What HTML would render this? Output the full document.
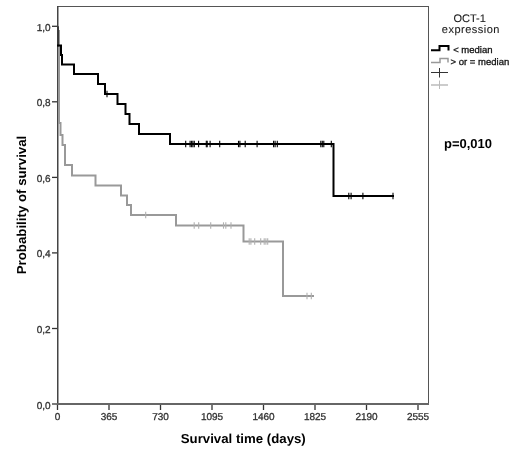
<!DOCTYPE html>
<html><head><meta charset="utf-8"><style>
html,body{margin:0;padding:0;background:#fff;}
svg{display:block;will-change:transform;}
text{text-rendering:geometricPrecision;}
text{font-family:"Liberation Sans",sans-serif;}
</style></head><body>
<svg width="520" height="463" viewBox="0 0 520 463">
<rect width="520" height="463" fill="#fff"/>
<!-- box -->
<g fill="none" stroke="#555" stroke-width="1">
<line x1="57.5" y1="6.5" x2="428.5" y2="6.5"/>
<line x1="428.5" y1="6" x2="428.5" y2="404"/>
</g>
<g fill="none" stroke="#333" stroke-width="1.3"><line x1="52" y1="26.3" x2="57.5" y2="26.3"/><line x1="52" y1="101.8" x2="57.5" y2="101.8"/><line x1="52" y1="177.4" x2="57.5" y2="177.4"/><line x1="52" y1="252.9" x2="57.5" y2="252.9"/><line x1="52" y1="328.5" x2="57.5" y2="328.5"/><line x1="52" y1="404.0" x2="57.5" y2="404.0"/><line x1="57.5" y1="404" x2="57.5" y2="410"/><line x1="109.0" y1="404" x2="109.0" y2="410"/><line x1="160.5" y1="404" x2="160.5" y2="410"/><line x1="212.0" y1="404" x2="212.0" y2="410"/><line x1="263.5" y1="404" x2="263.5" y2="410"/><line x1="315.0" y1="404" x2="315.0" y2="410"/><line x1="366.5" y1="404" x2="366.5" y2="410"/><line x1="418.0" y1="404" x2="418.0" y2="410"/></g>
<line x1="57.75" y1="6" x2="57.75" y2="405" stroke="#444" stroke-width="1.5"/>
<line x1="57" y1="404" x2="429" y2="404" stroke="#666" stroke-width="2"/>
<!-- curves -->
<path d="M59 30 V123 H60.5 V135 H62.5 V145 H65 V165 H72 V175.5 H95.5 V185.5 H121 V195.5 H127 V205 H131 V215 H176 V225.5 H243.5 V241.5 H283 V296 H314" fill="none" stroke="#999" stroke-width="2"/>
<g stroke="#b0b0b0" stroke-width="1.1"><line x1="145.7" y1="211.8" x2="145.7" y2="218.2"/><line x1="194.2" y1="222.3" x2="194.2" y2="228.7"/><line x1="198.7" y1="222.3" x2="198.7" y2="228.7"/><line x1="210.7" y1="222.3" x2="210.7" y2="228.7"/><line x1="223.5" y1="222.3" x2="223.5" y2="228.7"/><line x1="225.8" y1="222.3" x2="225.8" y2="228.7"/><line x1="231" y1="222.3" x2="231" y2="228.7"/><line x1="249.2" y1="238.3" x2="249.2" y2="244.7"/><line x1="250.9" y1="238.3" x2="250.9" y2="244.7"/><line x1="254.7" y1="238.3" x2="254.7" y2="244.7"/><line x1="260.7" y1="238.3" x2="260.7" y2="244.7"/><line x1="264.2" y1="238.3" x2="264.2" y2="244.7"/><line x1="265.9" y1="238.3" x2="265.9" y2="244.7"/><line x1="267.7" y1="238.3" x2="267.7" y2="244.7"/><line x1="307" y1="292.8" x2="307" y2="299.2"/><line x1="311.3" y1="292.8" x2="311.3" y2="299.2"/></g>
<line x1="58" y1="26.3" x2="58" y2="46.5" stroke="#3a3a3a" stroke-width="2"/>
<path d="M57 45.5 H61 V55 H62 V64.5 H74 V74 H98 V84 H105 V94 H117.5 V104 H125.5 V114 H129.5 V124 H139 V134 H170 V144 H333.5 V196 H394" fill="none" stroke="#000" stroke-width="2"/>
<g stroke="#000" stroke-width="1.1"><line x1="107" y1="90.8" x2="107" y2="97.2"/><line x1="185.7" y1="140.8" x2="185.7" y2="147.2"/><line x1="190.1" y1="140.8" x2="190.1" y2="147.2"/><line x1="191.6" y1="140.8" x2="191.6" y2="147.2"/><line x1="192.9" y1="140.8" x2="192.9" y2="147.2"/><line x1="194.3" y1="140.8" x2="194.3" y2="147.2"/><line x1="198.6" y1="140.8" x2="198.6" y2="147.2"/><line x1="206.3" y1="140.8" x2="206.3" y2="147.2"/><line x1="207.2" y1="140.8" x2="207.2" y2="147.2"/><line x1="210.1" y1="140.8" x2="210.1" y2="147.2"/><line x1="219.7" y1="140.8" x2="219.7" y2="147.2"/><line x1="238.5" y1="140.8" x2="238.5" y2="147.2"/><line x1="239.9" y1="140.8" x2="239.9" y2="147.2"/><line x1="245.2" y1="140.8" x2="245.2" y2="147.2"/><line x1="257.1" y1="140.8" x2="257.1" y2="147.2"/><line x1="273.6" y1="140.8" x2="273.6" y2="147.2"/><line x1="275.1" y1="140.8" x2="275.1" y2="147.2"/><line x1="277.3" y1="140.8" x2="277.3" y2="147.2"/><line x1="320.8" y1="140.8" x2="320.8" y2="147.2"/><line x1="322.3" y1="140.8" x2="322.3" y2="147.2"/><line x1="323.8" y1="140.8" x2="323.8" y2="147.2"/><line x1="331.3" y1="140.8" x2="331.3" y2="147.2"/><line x1="348.8" y1="192.8" x2="348.8" y2="199.2"/><line x1="351.1" y1="192.8" x2="351.1" y2="199.2"/><line x1="362.9" y1="192.8" x2="362.9" y2="199.2"/><line x1="393" y1="192.8" x2="393" y2="199.2"/></g>
<!-- tick labels -->
<g font-size="10" fill="#333" stroke="#333" stroke-width="0.3"><text x="50.6" y="30.8" text-anchor="end">1,0</text><text x="50.6" y="106.3" text-anchor="end">0,8</text><text x="50.6" y="181.9" text-anchor="end">0,6</text><text x="50.6" y="257.4" text-anchor="end">0,4</text><text x="50.6" y="333.0" text-anchor="end">0,2</text><text x="50.6" y="408.5" text-anchor="end">0,0</text><text x="57.5" y="420.4" text-anchor="middle">0</text><text x="109.0" y="420.4" text-anchor="middle">365</text><text x="160.5" y="420.4" text-anchor="middle">730</text><text x="212.0" y="420.4" text-anchor="middle">1095</text><text x="263.5" y="420.4" text-anchor="middle">1460</text><text x="315.0" y="420.4" text-anchor="middle">1825</text><text x="366.5" y="420.4" text-anchor="middle">2190</text><text x="418.0" y="420.4" text-anchor="middle">2555</text></g>
<!-- axis titles -->
<text x="243.25" y="442.5" text-anchor="middle" font-size="13" font-weight="bold" fill="#000" textLength="125" lengthAdjust="spacingAndGlyphs">Survival time (days)</text>
<text transform="translate(25.9,205) rotate(-90)" x="0" y="0" text-anchor="middle" font-size="13" font-weight="bold" fill="#000" textLength="138.5" lengthAdjust="spacingAndGlyphs">Probability of survival</text>
<text x="444" y="148" font-size="13" font-weight="bold" fill="#000" textLength="48" lengthAdjust="spacingAndGlyphs">p=0,010</text>
<!-- legend -->
<text x="469.7" y="22.2" text-anchor="middle" font-size="11" fill="#1a1a1a" stroke="#1a1a1a" stroke-width="0.1">OCT-1</text>
<text x="470.9" y="33.4" text-anchor="middle" font-size="11" fill="#1a1a1a" stroke="#1a1a1a" stroke-width="0.1" letter-spacing="0.5">expression</text>
<path d="M431 50.3 H439.5 V46 H448.5 V50.5" fill="none" stroke="#000" stroke-width="2"/>
<path d="M431 62.5 H440 V58.5 H448 V62.5" fill="none" stroke="#999" stroke-width="1.5"/>
<text x="453.2" y="52.8" font-size="9.5" fill="#111" stroke="#111" stroke-width="0.3">&lt; median</text>
<text x="450.6" y="64.6" font-size="9.5" fill="#111" stroke="#111" stroke-width="0.3">&gt; or = median</text>
<line x1="431" y1="72.5" x2="448" y2="72.5" stroke="#333" stroke-width="1"/>
<line x1="439.5" y1="68" x2="439.5" y2="77.5" stroke="#333" stroke-width="1"/>
<line x1="431" y1="85" x2="448" y2="85" stroke="#bbb" stroke-width="1.5"/>
<line x1="439.5" y1="80.5" x2="439.5" y2="89" stroke="#bbb" stroke-width="1"/>
</svg>
</body></html>
